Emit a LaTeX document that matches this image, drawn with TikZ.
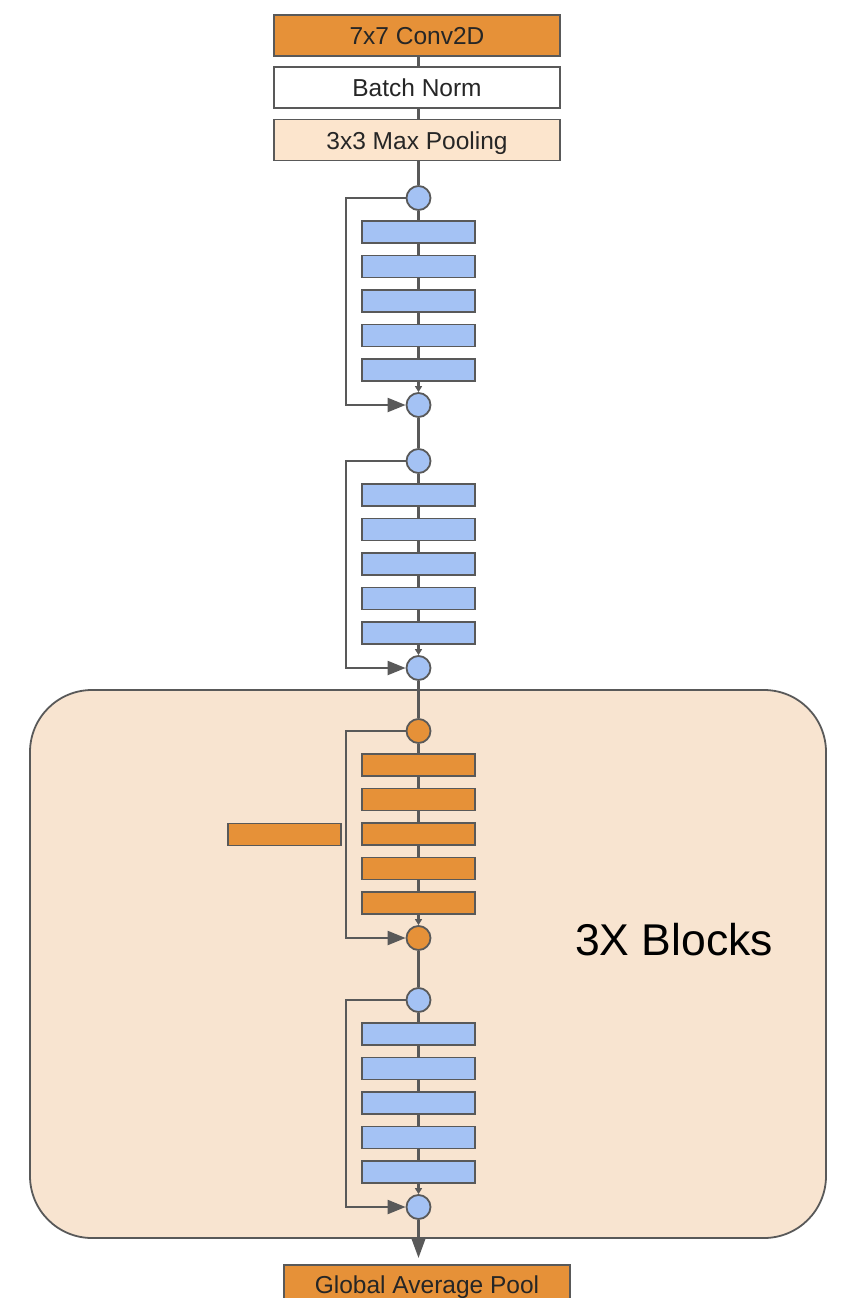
\documentclass[tikz,border=0pt]{standalone}
\usepackage{fontspec}
\setmainfont{Liberation Sans}
\usetikzlibrary{arrows.meta}
\definecolor{orng}{HTML}{E69138}
\definecolor{lorng}{HTML}{FCE5CD}
\definecolor{bgorng}{HTML}{F8E4D0}
\definecolor{lblue}{HTML}{A4C2F4}
\definecolor{lgray}{HTML}{595959}
\begin{document}
\begin{tikzpicture}[x=1pt,y=-1pt,
  topbox/.style={draw=lgray, line width=1.8pt, minimum width=286pt, minimum height=41pt, inner sep=0pt,
     font=\fontsize{24.5}{28}\selectfont, text height=18pt, text depth=0pt, text=black!85},
  bar/.style={draw=lgray, line width=1.8pt, minimum width=113pt, minimum height=22pt, inner sep=0pt},
  circ/.style={draw=lgray, line width=1.8pt, circle, minimum size=24pt, inner sep=0pt},
  conn/.style={draw=lgray, line width=2.2pt},
  skip/.style={draw=lgray, line width=2.2pt, -{Triangle[length=18pt,width=14pt]}},
  small/.style={draw=lgray, line width=2.2pt, -{Triangle[length=6pt,width=7pt]}}]
\useasboundingbox (0,0) rectangle (864,1298);
\clip (0,0) rectangle (864,1298);

% group background
\node[draw=lgray, line width=1.8pt, fill=bgorng, rounded corners=62pt,
      minimum width=796pt, minimum height=548pt] (grp) at (428,964) {};

% top stem
\node[topbox, fill=orng] (conv) at (417,35.5) {7x7 Conv2D};
\node[topbox, fill=white] (bn) at (417,87.5) {Batch Norm};
\node[topbox, fill=lorng] (pool) at (417,140) {3x3 Max Pooling};

% residual blocks
\foreach \k/\T/\c in {1/198/lblue,2/461/lblue,3/731/orng,4/1000/lblue}{
  \node[circ, fill=\c] (b\k t) at (418.5,\T) {};
  \foreach \i in {1,...,5}{
    \node[bar, fill=\c] (b\k-\i) at (418.5,{\T+34+34.5*(\i-1)}) {};
  }
  \node[circ, fill=\c] (b\k b) at (418.5,{\T+207}) {};
  \coordinate (s\k t) at (346,\T);
  \draw[conn] (b\k t) -- (b\k-1);
  \foreach \i/\j in {1/2,2/3,3/4,4/5}{
    \draw[conn] (b\k-\i) -- (b\k-\j);
  }
  \draw[small] (b\k-5) -- (b\k b);
  \draw[skip] (b\k t) -- (s\k t) |- (b\k b);
}

% links in the stem
\draw[conn] (conv.south -| b1t) -- (bn.north -| b1t);
\draw[conn] (bn.south -| b1t) -- (pool.north -| b1t);

% extra orange bar
\node[bar, fill=orng] (extra) at (284.5,834.5) {};

% links between stages
\draw[conn] (pool.south -| b1t) -- (b1t);
\draw[conn] (b1b) -- (b2t);
\draw[conn] (b2b) -- (b3t);
\draw[conn] (b3b) -- (b4t);

% global average pool
\node[draw=lgray, line width=1.8pt, fill=orng, anchor=north, inner sep=0pt,
      minimum width=286pt, text height=29pt, text depth=31pt, text=black!85,
      font=\fontsize{24.5}{28}\selectfont] (gap) at (427,1264) {Global Average Pool};
\draw[conn, -{Triangle[length=20pt,width=14pt]}, shorten >=6pt] (b4b) -- (b4b |- gap.north);

% label
\node[anchor=base, inner sep=0pt, font=\fontsize{44.5}{50}\selectfont] (lbl) at (674,955) {3X Blocks};
\end{tikzpicture}
\end{document}
